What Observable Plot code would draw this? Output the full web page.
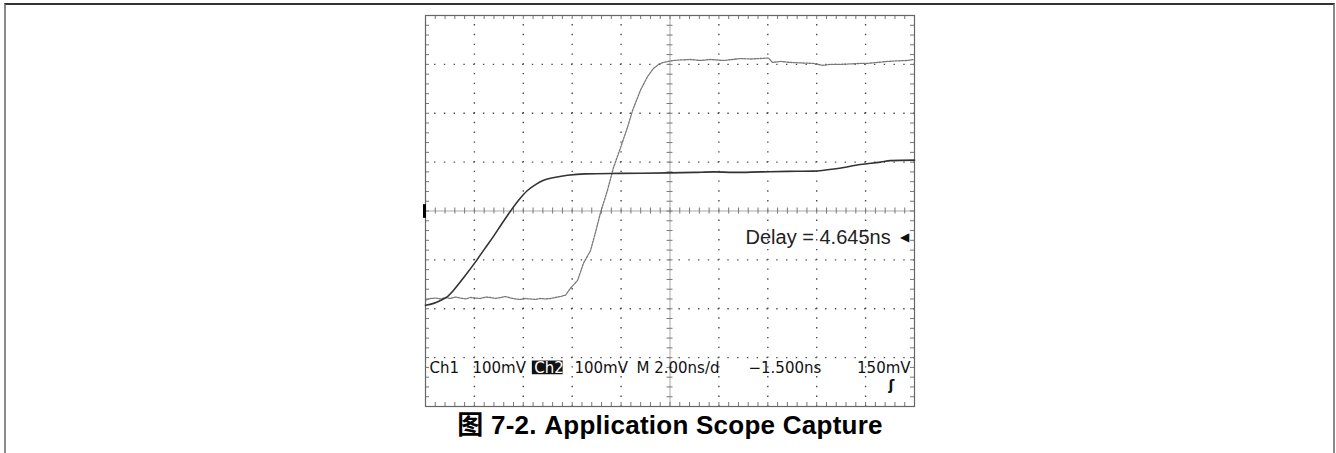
<!DOCTYPE html>
<html><head><meta charset="utf-8">
<script src="https://cdn.jsdelivr.net/npm/d3@7"></script>
<script src="https://cdn.jsdelivr.net/npm/@observablehq/plot@0.6"></script>
<style>
html,body{margin:0;padding:0;background:#fff;width:1336px;height:453px;overflow:hidden;}
#wrap{position:relative;width:1336px;height:453px;}
#border{position:absolute;left:4px;top:3px;width:1331px;height:480px;border-top:2px solid #333;border-left:2px solid #8a8a8a;border-right:2px solid #8a8a8a;box-sizing:border-box;}
#chart{position:absolute;left:0;top:0;}
#caption{position:absolute;left:2px;width:1336px;top:412px;text-align:center;font:bold 26px "Liberation Sans","Noto Sans CJK SC",sans-serif;letter-spacing:0.25px;line-height:26px;color:#000;}
</style></head>
<body><div id="wrap"><div id="border"></div><div id="chart"></div><div id="caption"></div></div>
<script>
// ---- data (time in ns across the 10-division screen, 2 ns/div; voltage in mV, 100 mV/div) ----
const ch1Time = [0,0.33,0.61,0.90,1.15,1.55,2.09,2.41,2.78,3.11,3.48,3.84,4.17,4.50,4.83,5.32,5.81,6.54,7.98,9.98,11.0,11.78,12.6,13.70,14.8,15.87,16.85,17.79,18.61,19.02,20];
const ch1mV   = [-193,-189,-183,-175,-162,-137,-101,-78,-52,-27,0,24,42,54,63,69,73,76,77,78,79,80,79,80,81,81.6,87,95,100,103,104];

const ch2Time = [0.04,0.20,0.41,0.61,0.82,1.02,1.23,1.43,1.64,1.84,2.04,2.25,2.45,2.66,2.86,3.07,3.27,3.48,3.68,3.89,4.09,4.29,4.50,4.70,4.91,5.11,5.32,5.52,5.73,5.93,6.22,6.46,6.75,6.95,7.16,7.44,7.69,7.98,8.26,8.47,8.79,9.08,9.33,9.53,9.73,9.94,10.14,10.43,10.84,11.25,11.66,12.19,12.56,12.88,13.29,13.70,14.03,14.19,14.52,14.93,15.34,15.87,16.24,16.56,16.97,17.38,17.79,18.08,18.49,18.90,19.22,19.71,19.96];
const ch2mV   = [-182,-179,-178,-180,-177,-179,-176,-178,-180,-177,-178,-179,-176,-177,-179,-177,-175,-178,-180,-181,-179,-180,-181,-179,-180,-179,-177,-175,-172,-158,-142,-107,-81,-44,-3,42,89,130,171,206,247,275,292,300,304,306,308,309,310,308,310,308,310,312,311,312,313,304,306,304,303,302,298,300,300,301,302,302,304,306,307,308,310];

const labelText = ["Ch1","100mV","Ch2","100mV","M 2.00ns/d","\u22121.500ns"];
const labelTime = [0.16,1.92,4.45,6.09,8.63,13.21];
const trigLevelText = "150mV";
const trigLevelTime = 19.84;
const labelmV = -332;
const delayText = "Delay = 4.645ns";
const caption = "图 7-2. Application Scope Capture";

// ---- graticule ----
const divT = 2, divV = 100;
const majorT = [2,4,6,8,12,14,16,18];
const majorV = [-300,-200,-100,100,200,300];
const minorT = d3.range(0, 20.0001, divT/5);
const minorV = d3.range(-400, 400.0001, divV/5);

const W = 1336, H = 412, mL = 425, mR = 422, mT = 15, mB = 6;
const pxT = 20 / (W - mL - mR), pxV = 800 / (H - mT - mB);
const minorPx = (H - mT - mB) / 40;

const ch1 = ch1Time.map((t,i)=>({t, v: ch1mV[i]}));
const ch2 = ch2Time.map((t,i)=>({t, v: ch2mV[i]}));
const labels = labelText.map((s,i)=>({s, t: labelTime[i]}));

const dotted = {stroke:"#4a4a4a", strokeWidth:1.4, strokeDasharray:`1.4 ${minorPx-1.4}`, strokeDashoffset:0.7};
const tickStyle = {stroke:"#777", strokeWidth:1};
const scopeFont = {fontSize:15, fontFamily:"DejaVu Sans", lineAnchor:"bottom"};

const plot = Plot.plot({
  width: W, height: H,
  marginLeft: mL, marginRight: mR, marginTop: mT, marginBottom: mB,
  x: {domain:[0,20], axis:null},
  y: {domain:[-400,400], axis:null},
  style: {background:"transparent"},
  marks: [
    Plot.ruleX(majorT, {x:d=>d, ...dotted}),
    Plot.ruleY(majorV, {y:d=>d, ...dotted}),
    Plot.ruleX([10], {x:d=>d, stroke:"#aaa", strokeWidth:1}),
    Plot.ruleY([0], {y:d=>d, stroke:"#aaa", strokeWidth:1}),
    // centre-axis minor ticks
    Plot.ruleX(minorT, {x:d=>d, y1:()=>-3*pxV, y2:()=>3*pxV, ...tickStyle}),
    Plot.ruleY(minorV, {y:d=>d, x1:()=>10-3*pxT, x2:()=>10+3*pxT, ...tickStyle}),
    // edge ticks
    Plot.ruleX(minorT, {x:d=>d, y1:()=>400, y2:()=>400-4*pxV, ...tickStyle}),
    Plot.ruleX(minorT, {x:d=>d, y1:()=>-400, y2:()=>-400+4*pxV, ...tickStyle}),
    Plot.ruleY(minorV, {y:d=>d, x1:()=>0, x2:()=>4*pxT, ...tickStyle}),
    Plot.ruleY(minorV, {y:d=>d, x1:()=>20-4*pxT, x2:()=>20, ...tickStyle}),
    Plot.frame({stroke:"#666", strokeWidth:1.2}),
    // channel ground marker
    Plot.ruleX([0], {x:d=>d, y1:()=>-15, y2:()=>13, stroke:"#000", strokeWidth:3, dx:-1}),
    // traces
    Plot.line(ch2, {x:"t", y:"v", stroke:"#777", strokeWidth:1.3, strokeDasharray:"2 1.2"}),
    Plot.line(ch1, {x:"t", y:"v", stroke:"#333", strokeWidth:1.6, curve:"monotone-x"}),
    // Ch2 highlight box
    Plot.rect([labels[2]], {x1:d=>d.t-0.08, x2:d=>d.t+1.18, y1:()=>labelmV-3, y2:()=>labelmV+25, fill:"#111"}),
    Plot.text(labels, {x:"t", y:()=>labelmV, text:"s", textAnchor:"start",
      fill:(d,i)=>i===2?"#fff":"#111", ...scopeFont}),
    Plot.text([trigLevelText], {x:()=>trigLevelTime, y:()=>labelmV, text:d=>d, textAnchor:"end", fill:"#111", ...scopeFont}),
    Plot.text(["\u0283"], {x:()=>19.06, y:()=>-357, text:d=>d, fontSize:14, fontWeight:"bold", fill:"#111", fontFamily:"DejaVu Sans"}),
    Plot.text([delayText], {x:()=>13.09, y:()=>-68, text:d=>d, textAnchor:"start", lineAnchor:"bottom", fontSize:20, fill:"#222", fontFamily:"Liberation Sans"}),
    Plot.text(["\u25C0"], {x:()=>19.6, y:()=>-54, text:d=>d, fontSize:12, fill:"#111", fontFamily:"DejaVu Sans"})
  ]
});
document.getElementById("chart").appendChild(plot);
document.getElementById("caption").textContent = caption;
</script>
</body></html>
